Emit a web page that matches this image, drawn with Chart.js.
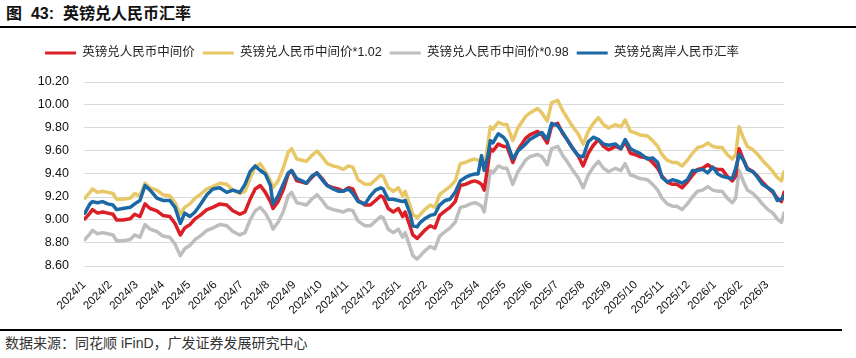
<!DOCTYPE html>
<html><head><meta charset="utf-8">
<script src="https://cdn.jsdelivr.net/npm/chart.js@4.4.1/dist/chart.umd.min.js"></script>
<style>
html,body{margin:0;padding:0;background:#fff;}
#wrap{position:relative;width:856px;height:358px;overflow:hidden;font-family:'Liberation Sans','Noto Sans CJK SC',sans-serif;}
#title{position:absolute;left:6px;top:3px;font-size:16px;font-weight:bold;color:#111;line-height:22px;white-space:nowrap;}
#topline{position:absolute;left:0;top:26px;width:856px;height:2px;background:#000;}
#chartbox{position:absolute;left:0;top:28px;width:856px;height:300px;}
#botline{position:absolute;left:0;top:329px;width:842px;height:2px;background:#000;}
#source{position:absolute;left:5px;top:334px;font-size:14px;color:#333;line-height:18px;white-space:nowrap;}
</style></head>
<body><div id="wrap">
<div id="title">图&nbsp;&nbsp;43:&nbsp;&nbsp;英镑兑人民币汇率</div>
<div id="topline"></div>
<div id="chartbox"><canvas id="c" width="856" height="300" style="width:856px;height:300px"></canvas></div>
<div id="botline"></div>
<div id="source">数据来源：同花顺 iFinD，广发证券发展研究中心</div>
</div>
<script>
const monthLabels = ['2024/1','2024/2','2024/3','2024/4','2024/5','2024/6','2024/7','2024/8','2024/9','2024/10','2024/11','2024/12',
  '2025/1','2025/2','2025/3','2025/4','2025/5','2025/6','2025/7','2025/8','2025/9','2025/10','2025/11','2025/12',
  '2026/1','2026/2','2026/3'];

const dates = [
 '2024-01-02','2024-01-08','2024-01-11','2024-01-17','2024-01-23','2024-01-29','2024-02-04','2024-02-08','2024-02-15','2024-02-23',
 '2024-02-28','2024-03-05','2024-03-11','2024-03-17','2024-03-25','2024-04-01','2024-04-09','2024-04-15','2024-04-21','2024-04-26',
 '2024-05-02','2024-05-08','2024-05-14','2024-05-22','2024-05-29','2024-06-06','2024-06-14','2024-06-21','2024-06-29','2024-07-05',
 '2024-07-11','2024-07-17','2024-07-23','2024-07-29','2024-08-04','2024-08-07','2024-08-13','2024-08-19','2024-08-25','2024-08-29',
 '2024-09-04','2024-09-10','2024-09-15','2024-09-21','2024-09-27','2024-10-03','2024-10-09','2024-10-16','2024-10-22','2024-10-28',
 '2024-11-03','2024-11-08','2024-11-14','2024-11-22','2024-11-28','2024-12-04','2024-12-10','2024-12-13','2024-12-19','2024-12-25',
 '2024-12-31','2025-01-05','2025-01-08','2025-01-14','2025-01-17','2025-01-22','2025-01-26','2025-01-31','2025-02-06','2025-02-11',
 '2025-02-16','2025-02-22','2025-02-27','2025-03-05','2025-03-11','2025-03-17','2025-03-23','2025-03-28','2025-04-01','2025-04-05',
 '2025-04-08','2025-04-12','2025-04-15','2025-04-18','2025-04-24','2025-04-30','2025-05-04','2025-05-11','2025-05-17','2025-05-26',
 '2025-05-31','2025-06-09','2025-06-14','2025-06-20','2025-06-25','2025-07-02','2025-07-08','2025-07-13','2025-07-19','2025-07-26',
 '2025-08-01','2025-08-07','2025-08-13','2025-08-19','2025-08-25','2025-08-31','2025-09-08','2025-09-14','2025-09-19','2025-09-25',
 '2025-09-30','2025-10-06','2025-10-15','2025-10-21','2025-10-27','2025-11-01','2025-11-07','2025-11-13','2025-11-18','2025-11-24',
 '2025-11-30','2025-12-06','2025-12-12','2025-12-18','2025-12-24','2025-12-30','2026-01-05','2026-01-10','2026-01-16','2026-01-22',
 '2026-01-26','2026-01-30','2026-02-04','2026-02-08','2026-02-14','2026-02-19','2026-02-24','2026-03-02','2026-03-08','2026-03-13',
 '2026-03-18','2026-03-21'];

// 英镑兑人民币中间价
const midRate = [
 9.01,9.06,9.09,9.06,9.07,9.06,9.05,9.00,9.00,9.01,
 9.05,9.03,9.14,9.10,9.08,9.04,9.03,8.97,8.87,8.93,
 8.96,9.01,9.04,9.09,9.11,9.14,9.13,9.08,9.05,9.07,
 9.18,9.27,9.30,9.24,9.16,9.10,9.16,9.26,9.40,9.43,
 9.34,9.33,9.32,9.37,9.41,9.36,9.30,9.28,9.27,9.25,
 9.28,9.27,9.17,9.13,9.13,9.17,9.21,9.20,9.10,9.07,
 9.10,9.03,9.07,8.94,8.87,8.84,8.87,8.91,8.95,8.93,
 9.04,9.08,9.11,9.16,9.30,9.31,9.33,9.34,9.33,9.31,
 9.26,9.46,9.62,9.60,9.66,9.64,9.64,9.50,9.61,9.71,
 9.74,9.77,9.74,9.67,9.82,9.84,9.75,9.70,9.63,9.56,
 9.47,9.58,9.65,9.70,9.64,9.61,9.64,9.62,9.68,9.58,
 9.57,9.55,9.54,9.50,9.45,9.38,9.33,9.31,9.31,9.28,
 9.33,9.39,9.44,9.45,9.48,9.45,9.44,9.44,9.38,9.34,
 9.38,9.62,9.52,9.45,9.42,9.38,9.33,9.28,9.24,9.19,
 9.16,9.24];

// 英镑兑人民币中间价*1.02
const midUpper = [
 9.19,9.24,9.27,9.24,9.25,9.24,9.23,9.18,9.18,9.19,
 9.23,9.21,9.32,9.28,9.26,9.22,9.21,9.15,9.05,9.11,
 9.14,9.19,9.22,9.27,9.29,9.32,9.31,9.26,9.23,9.25,
 9.36,9.46,9.49,9.42,9.34,9.28,9.34,9.45,9.59,9.62,
 9.53,9.52,9.51,9.56,9.60,9.55,9.49,9.47,9.46,9.44,
 9.47,9.46,9.35,9.31,9.31,9.35,9.39,9.38,9.28,9.25,
 9.28,9.21,9.25,9.12,9.05,9.02,9.05,9.09,9.13,9.11,
 9.22,9.26,9.29,9.34,9.49,9.50,9.52,9.53,9.52,9.50,
 9.45,9.65,9.81,9.79,9.85,9.83,9.83,9.69,9.80,9.90,
 9.93,9.97,9.93,9.86,10.02,10.04,9.95,9.89,9.82,9.75,
 9.66,9.77,9.84,9.89,9.83,9.80,9.83,9.81,9.87,9.77,
 9.76,9.74,9.73,9.69,9.64,9.57,9.52,9.50,9.50,9.47,
 9.52,9.58,9.63,9.64,9.67,9.64,9.63,9.63,9.57,9.53,
 9.57,9.81,9.71,9.64,9.61,9.57,9.52,9.47,9.42,9.37,
 9.34,9.42];

// 英镑兑人民币中间价*0.98
const midLower = [
 8.83,8.88,8.91,8.88,8.89,8.88,8.87,8.82,8.82,8.83,
 8.87,8.85,8.96,8.92,8.90,8.86,8.85,8.79,8.69,8.75,
 8.78,8.83,8.86,8.91,8.93,8.96,8.95,8.90,8.87,8.89,
 9.00,9.08,9.11,9.06,8.98,8.92,8.98,9.07,9.21,9.24,
 9.15,9.14,9.13,9.18,9.22,9.17,9.11,9.09,9.08,9.07,
 9.09,9.08,8.99,8.95,8.95,8.99,9.03,9.02,8.92,8.89,
 8.92,8.85,8.89,8.76,8.69,8.66,8.69,8.73,8.77,8.75,
 8.86,8.90,8.93,8.98,9.11,9.12,9.14,9.15,9.14,9.12,
 9.07,9.27,9.43,9.41,9.47,9.45,9.45,9.31,9.42,9.52,
 9.55,9.57,9.55,9.48,9.62,9.64,9.56,9.51,9.44,9.37,
 9.28,9.39,9.46,9.51,9.45,9.42,9.45,9.43,9.49,9.39,
 9.38,9.36,9.35,9.31,9.26,9.19,9.14,9.12,9.12,9.09,
 9.14,9.20,9.25,9.26,9.29,9.26,9.25,9.25,9.19,9.15,
 9.19,9.43,9.33,9.26,9.23,9.19,9.14,9.09,9.06,9.01,
 8.98,9.06];

// 英镑兑离岸人民币汇率
const offshoreRate = [
 9.06,9.14,9.16,9.15,9.16,9.14,9.13,9.09,9.10,9.11,
 9.14,9.17,9.30,9.26,9.19,9.17,9.17,9.11,8.97,9.06,
 9.03,9.07,9.13,9.22,9.27,9.28,9.24,9.26,9.24,9.31,
 9.42,9.47,9.43,9.40,9.30,9.14,9.21,9.31,9.41,9.43,
 9.36,9.34,9.32,9.38,9.41,9.35,9.30,9.27,9.25,9.25,
 9.27,9.23,9.16,9.14,9.21,9.26,9.28,9.27,9.18,9.18,
 9.17,9.16,9.17,9.05,8.95,8.94,8.98,9.01,9.04,9.05,
 9.13,9.17,9.18,9.24,9.34,9.37,9.39,9.40,9.40,9.56,
 9.43,9.55,9.69,9.67,9.75,9.72,9.68,9.53,9.60,9.66,
 9.70,9.74,9.76,9.70,9.84,9.82,9.76,9.70,9.63,9.56,
 9.55,9.68,9.72,9.70,9.66,9.65,9.66,9.62,9.70,9.62,
 9.60,9.58,9.53,9.54,9.50,9.37,9.33,9.35,9.34,9.32,
 9.35,9.43,9.43,9.44,9.41,9.46,9.40,9.38,9.37,9.36,
 9.45,9.57,9.52,9.44,9.42,9.37,9.31,9.28,9.25,9.17,
 9.18,9.21];

const yTicks = [8.6, 8.8, 9.0, 9.2, 9.4, 9.6, 9.8, 10.0, 10.2];

function monthPos(s){
  const [y,m,d] = s.split('-').map(Number);
  const dim = new Date(y, m, 0).getDate();
  return (y-2024)*12 + (m-1) + (d-1)/dim;
}
const xs = dates.map(monthPos);
const pts = arr => arr.map((v,i)=>({x:xs[i], y:v}));

const FONT = "'Liberation Sans','Noto Sans CJK SC',sans-serif";

const legendSpace = {
  id:'legendSpace',
  beforeLayout(chart){
    const lg = chart.legend;
    if (lg && !lg._patched){
      const f = lg.fit;
      lg.fit = function(){ f.call(this); this.height += 12.75; };
      lg._patched = true;
    }
  }
};

const ds = (label, data, color, order) => ({
  label, data: pts(data), borderColor: color, backgroundColor: color,
  borderWidth: 3.5, pointRadius: 0, tension: 0, fill: false, order,
  borderJoinStyle: 'round', borderCapStyle: 'round'
});

new Chart(document.getElementById('c'), {
  type: 'line',
  data: { datasets: [
    ds('英镑兑人民币中间价', midRate, '#DC1E26', 2),
    ds('英镑兑人民币中间价*1.02', midUpper, '#E8C767', 3),
    ds('英镑兑人民币中间价*0.98', midLower, '#BEBEBE', 4),
    ds('英镑兑离岸人民币汇率', offshoreRate, '#1B68A6', 1)
  ]},
  options: {
    responsive: false,
    animation: false,
    events: [],
    layout: { padding: { top: 10.75, left: 0, right: 72, bottom: 0 } },
    plugins: {
      tooltip: { enabled: false },
      legend: {
        position: 'top',
        align: 'center',
        labels: {
          boxWidth: 31, boxHeight: 3, padding: 8,
          color: '#222',
          font: { family: FONT, size: 12.5 },
          sort: (a,b) => a.datasetIndex - b.datasetIndex,
          generateLabels(chart){
            const items = Chart.defaults.plugins.legend.labels.generateLabels(chart);
            items.forEach(it => { it.lineWidth = 0; });
            return items;
          }
        }
      }
    },
    scales: {
      x: {
        type: 'linear',
        min: 0,
        max: xs[xs.length-1],
        grid: { display: false },
        border: { display: false },
        afterBuildTicks(scale){ scale.ticks = monthLabels.map((_,i)=>({value:i})); },
        afterFit(scale){ scale.height = 62; },
        ticks: {
          autoSkip: false, maxRotation: 45, minRotation: 45, padding: 4,
          color: '#111', font: { family: FONT, size: 11.5 },
          callback: (v) => monthLabels[v] ?? ''
        }
      },
      y: {
        min: 8.6, max: 10.2,
        grid: { color: '#d9d9d9', lineWidth: 1, drawTicks: false },
        border: { display: false },
        afterBuildTicks(scale){ scale.ticks = yTicks.map(v=>({value:v})); },
        afterFit(scale){ scale.width = 84; },
        ticks: {
          padding: 15, color: '#111',
          font: { family: FONT, size: 12.5 },
          callback: (v) => Number(v).toFixed(2)
        }
      }
    }
  },
  plugins: [legendSpace]
});
</script>
</body></html>
